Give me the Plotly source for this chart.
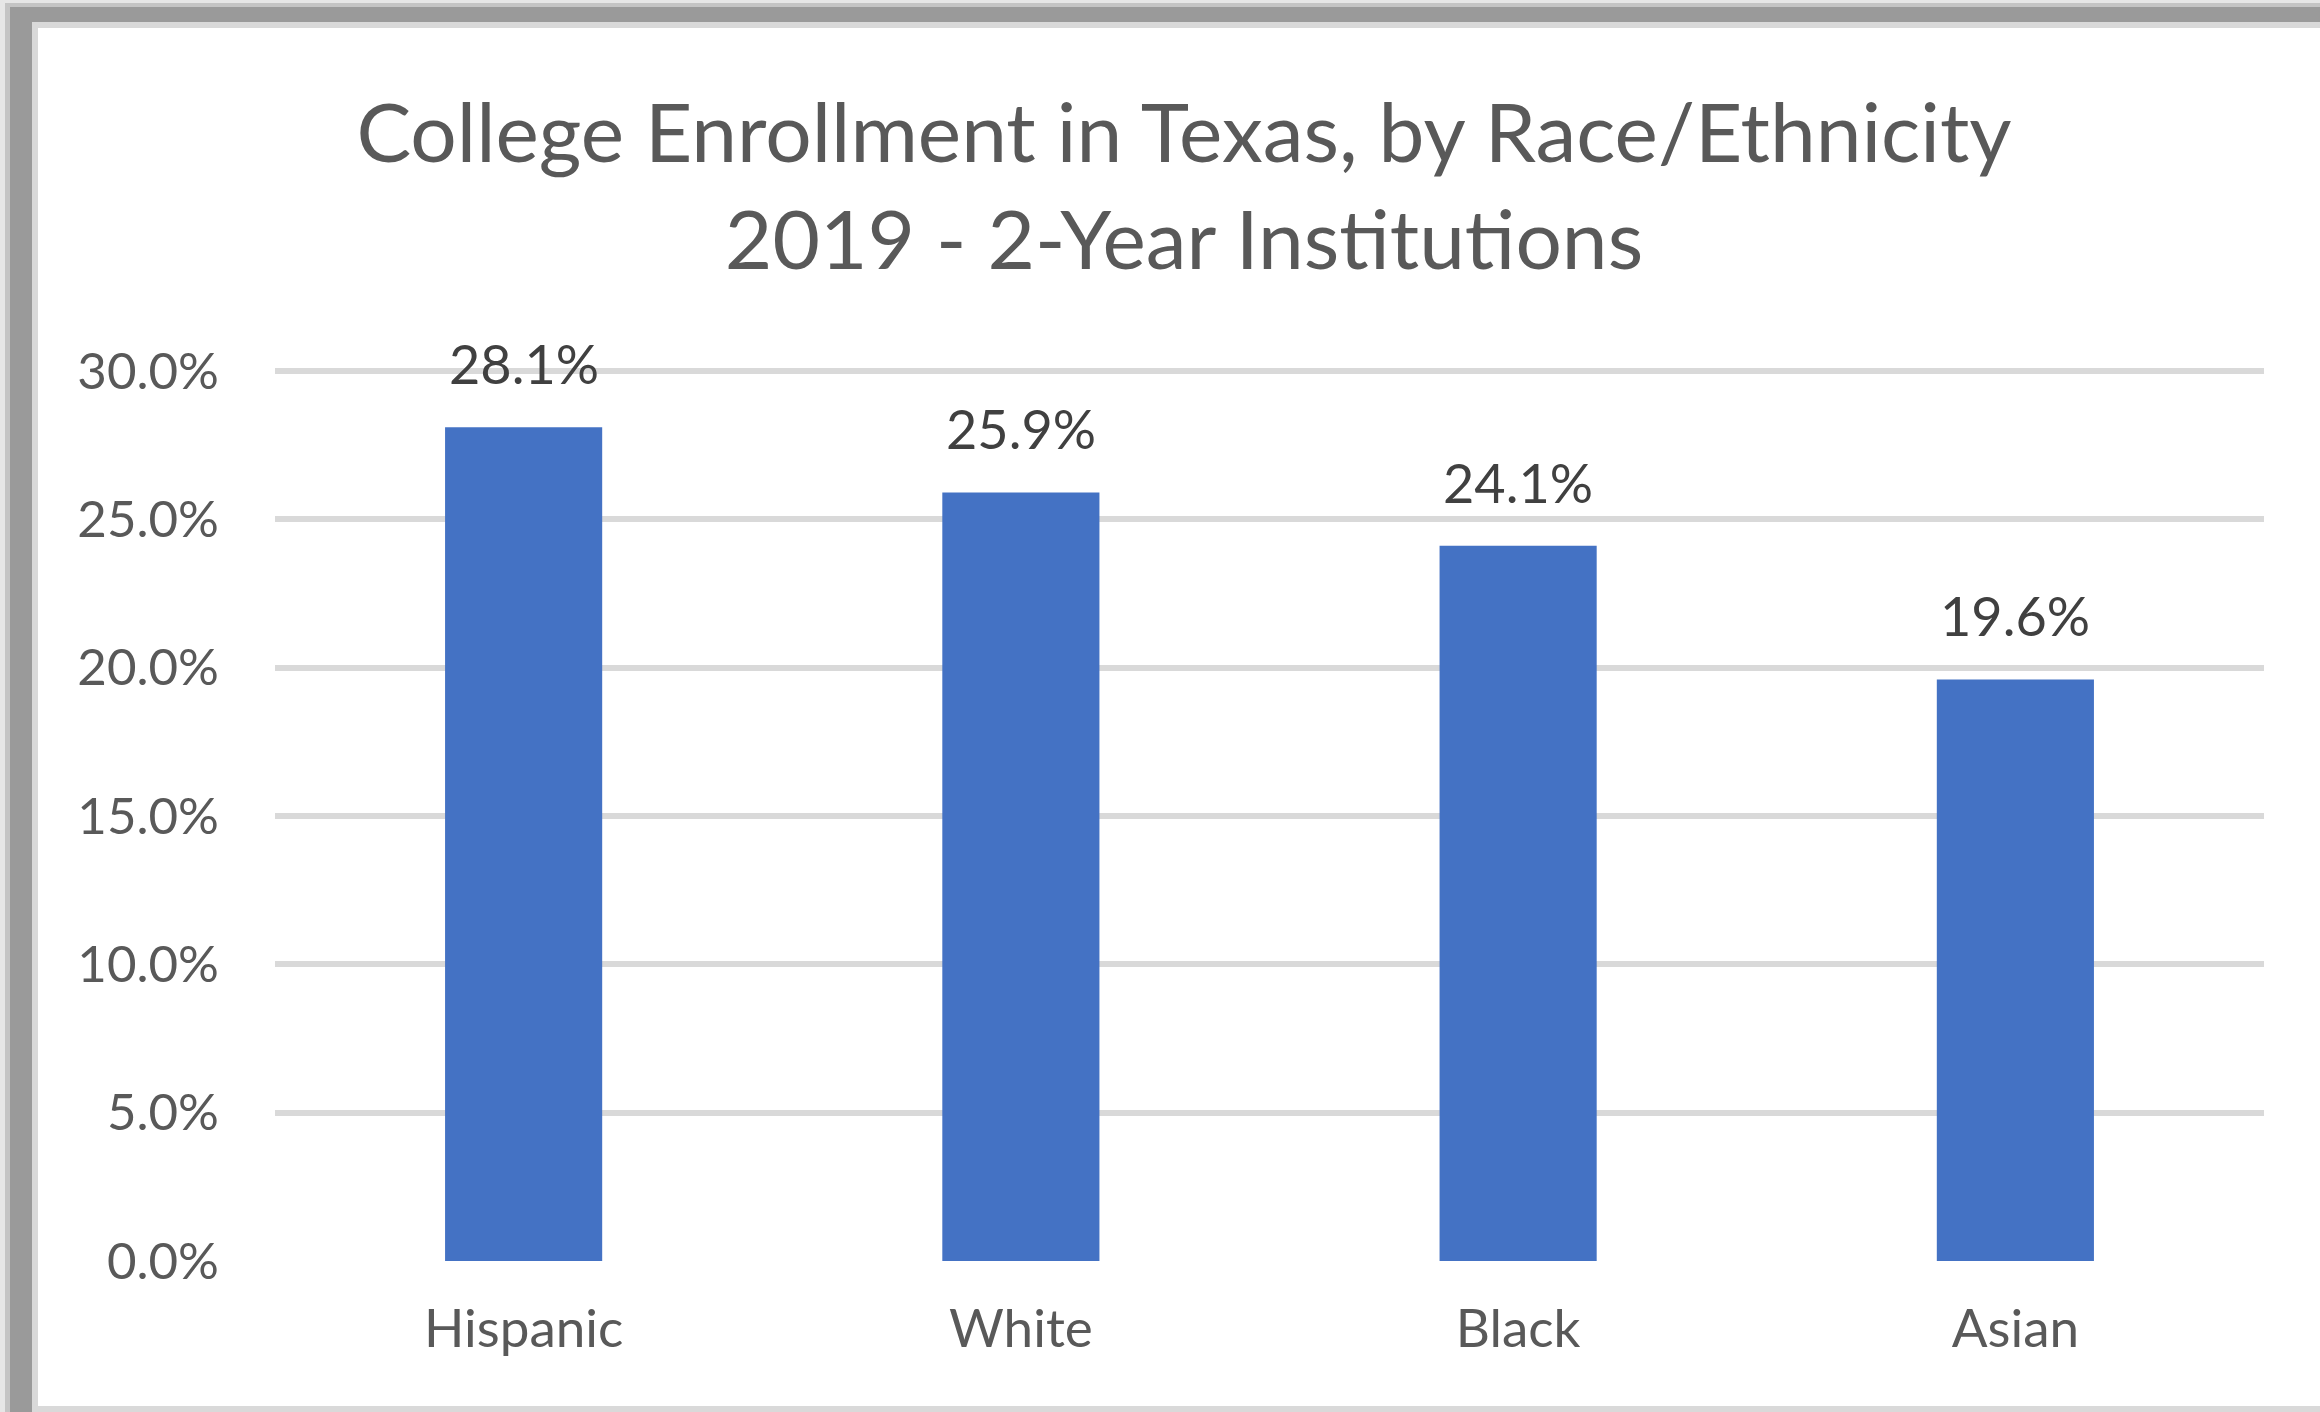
import plotly.graph_objects as go

categories = ["Hispanic", "White", "Black", "Asian"]
enrollment = [0.281, 0.259, 0.241, 0.196]
y_ticks = [0.0, 0.05, 0.10, 0.15, 0.20, 0.25, 0.30]

W, H = 2320, 1412
L, R, T, B = 275, 56, 369, 151
FONT = "Lato"


def px(x):
    # pixel -> paper x
    return (x - L) / (W - L - R)


def py(y):
    # pixel (from top) -> paper y
    return 1 - (y - T) / (H - T - B)


fig = go.Figure()
fig.add_trace(go.Bar(
    x=categories,
    y=enrollment,
    marker=dict(color="#4472C4", line=dict(width=0)),
    width=0.316,
    hoverinfo="skip",
))

# data labels above bars
for c, v in zip(categories, enrollment):
    fig.add_annotation(
        x=c, y=v, text=f"{v * 100:.1f}%",
        showarrow=False, yanchor="bottom", yshift=29,
        font=dict(family=FONT, size=54, color="#404040"),
    )

# frame with shadow, like the Excel chart border
shapes = [
    (0, 0, W, H, "#e6e6e6"),
    (5, 3, W, H, "#c4c4c4"),
    (10, 7, W, H, "#9a9a9a"),
    (32, 22, W, H, "#d9d9d9"),
    (38, 28, W, 1406, "white"),
]
for x0, y0, x1, y1, col in shapes:
    fig.add_shape(type="rect", xref="paper", yref="paper",
                  x0=px(x0), x1=px(x1), y0=py(y1), y1=py(y0),
                  fillcolor=col, line=dict(width=0), layer="below")

fig.update_layout(
    width=W, height=H,
    margin=dict(l=L, r=R, t=T, b=B, pad=0),
    paper_bgcolor="white",
    plot_bgcolor="rgba(0,0,0,0)",
    showlegend=False,
    title=dict(
        text="College Enrollment in Texas, by Race/Ethnicity<br>2019 - 2-Year Institutions",
        x=1184 / W, xref="container", xanchor="center",
        y=1 - 162 / H, yref="container", yanchor="middle",
        font=dict(family=FONT, size=82, color="#595959"),
    ),
    font=dict(family=FONT, color="#595959"),
)

fig.update_xaxes(
    showgrid=False, zeroline=False, showline=False,
    ticks="", tickfont=dict(family=FONT, size=53, color="#595959"),
    ticklabelstandoff=32,
)
fig.update_yaxes(
    range=[0, 0.3006], tickvals=y_ticks, tickformat=".1%",
    showgrid=True, gridcolor="#D9D9D9", gridwidth=6,
    zeroline=False, showline=False, ticks="",
    tickfont=dict(family=FONT, size=51, color="#595959"),
    ticklabelstandoff=55,
)

fig.write_html("out.html", config={"displayModeBar": False},
               post_script="document.body.style.margin='0';")
